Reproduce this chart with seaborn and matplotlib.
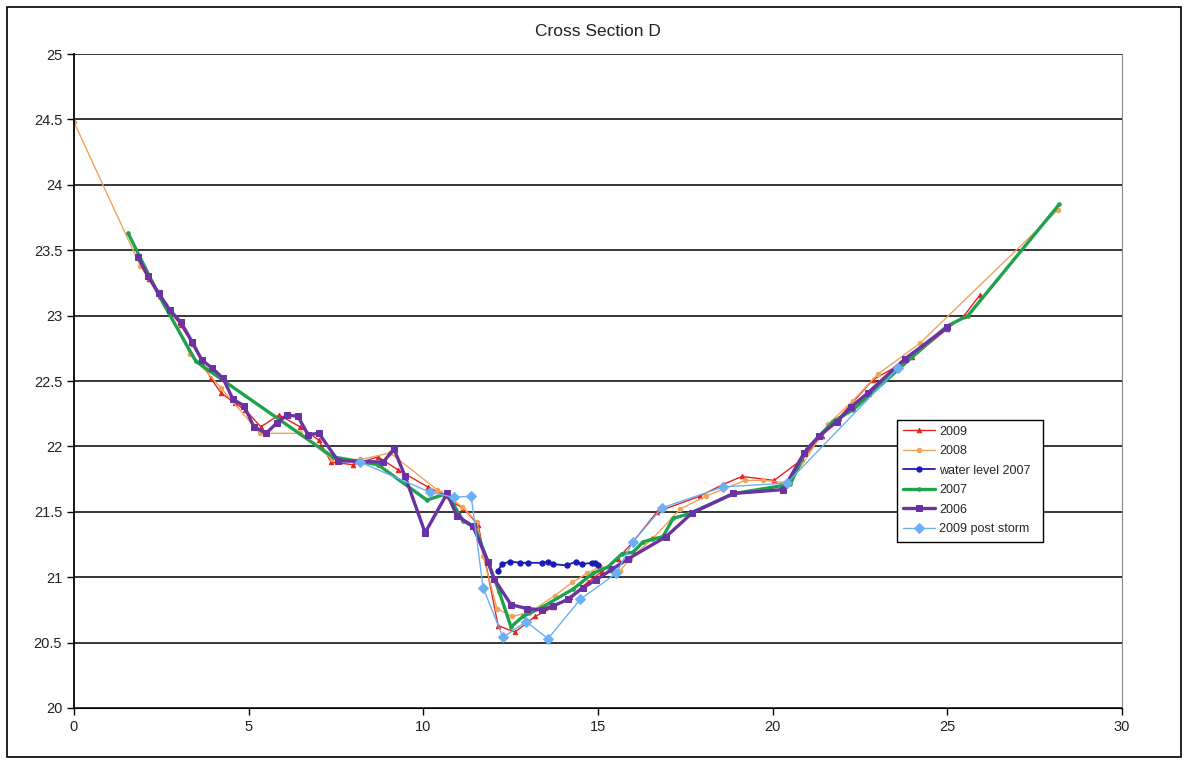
import numpy as np
import pandas as pd
import matplotlib
matplotlib.use('Agg')
import matplotlib.pyplot as plt
from matplotlib.ticker import FuncFormatter, MultipleLocator
from matplotlib.patches import Rectangle
import seaborn as sns

# chainage (m) and bed level readings per survey
x_2009 = [1.85, 2.15, 2.45, 2.75, 3.05, 3.4, 3.92, 4.21, 4.6, 4.9, 5.35, 5.87, 6.47, 7.0, 7.36, 7.99,
          8.70, 9.28, 10.13, 10.5, 10.85, 11.14, 11.57, 12.14, 12.62, 13.2, 13.71, 14.2, 14.7, 15.1,
          15.57, 16.0, 16.69, 17.92, 18.58, 19.12, 20.04, 20.84, 21.4, 21.9, 22.87, 24.0, 25.0, 25.48, 25.94]
y_2009 = [23.45, 23.28, 23.15, 23.03, 22.93, 22.78, 22.52, 22.41, 22.33, 22.28, 22.15, 22.24, 22.15, 22.05,
          21.88, 21.86, 21.92, 21.82, 21.69, 21.64, 21.57, 21.53, 21.40, 20.63, 20.58, 20.70, 20.77, 20.85,
          20.96, 21.04, 21.14, 21.27, 21.50, 21.62, 21.71, 21.77, 21.74, 21.90, 22.08, 22.22, 22.51, 22.68,
          22.90, 23.00, 23.16]

x_2008 = [0, 1.9, 2.6, 3.32, 4.2, 5.32, 6.47, 7.4, 8.2, 9.05, 10.39, 11.11, 11.54, 11.71, 12.11, 12.54,
          13.03, 13.77, 14.26, 14.69, 15.06, 15.63, 15.92, 16.58, 17.35, 18.09, 19.21, 19.73, 20.5, 21.59,
          22.3, 23.0, 24.22, 28.17]
y_2008 = [24.48, 23.38, 23.08, 22.71, 22.45, 22.10, 22.10, 21.90, 21.90, 21.95, 21.67, 21.54, 21.42, 21.16,
          20.76, 20.70, 20.73, 20.86, 20.96, 21.03, 21.08, 21.05, 21.14, 21.30, 21.52, 21.62, 21.74, 21.74,
          21.72, 22.17, 22.35, 22.55, 22.79, 23.81]

x_wl2007 = [12.14, 12.25, 12.48, 12.77, 13.0, 13.40, 13.57, 13.71, 14.11, 14.37, 14.54, 14.83, 14.92, 15.0]
y_wl2007 = [21.05, 21.10, 21.12, 21.11, 21.11, 21.11, 21.12, 21.10, 21.09, 21.12, 21.10, 21.11, 21.11, 21.09]

x_2007 = [1.55, 2.46, 3.49, 7.41, 8.70, 10.1, 10.68, 11.14, 11.48, 12.17, 12.51, 12.85, 13.40, 14.29, 14.86,
          15.29, 15.69, 16.0, 16.29, 16.55, 16.86, 17.15, 17.55, 18.9, 20.5, 20.98, 21.73, 22.30, 24.99,
          25.59, 28.2]
y_2007 = [23.63, 23.14, 22.65, 21.92, 21.86, 21.59, 21.64, 21.43, 21.38, 20.89, 20.62, 20.70, 20.77, 20.91,
          21.03, 21.08, 21.18, 21.19, 21.27, 21.29, 21.31, 21.45, 21.48, 21.64, 21.71, 21.98, 22.19, 22.28,
          22.92, 23.00, 23.85]

x_2006 = [1.83, 2.12, 2.43, 2.75, 3.06, 3.38, 3.66, 3.95, 4.27, 4.55, 4.87, 5.15, 5.50, 5.81, 6.10, 6.41,
          6.70, 7.01, 7.56, 8.85, 9.16, 9.48, 10.05, 10.68, 10.96, 11.42, 11.85, 12.02, 12.51, 12.97, 13.40,
          13.71, 14.14, 14.57, 14.94, 15.40, 15.86, 16.95, 17.69, 18.87, 20.30, 20.9, 21.33, 21.84, 22.24,
          22.73, 23.79, 24.99]
y_2006 = [23.45, 23.30, 23.17, 23.04, 22.95, 22.80, 22.66, 22.60, 22.52, 22.36, 22.31, 22.15, 22.10, 22.18,
          22.24, 22.23, 22.09, 22.10, 21.89, 21.88, 21.98, 21.77, 21.34, 21.64, 21.47, 21.39, 21.12, 20.99,
          20.79, 20.76, 20.75, 20.78, 20.83, 20.92, 20.98, 21.06, 21.14, 21.31, 21.49, 21.64, 21.67, 21.95,
          22.08, 22.19, 22.30, 22.41, 22.67, 22.91]

x_post = [8.19, 10.19, 10.88, 11.37, 11.71, 12.28, 12.94, 13.57, 14.49, 15.52, 16.0, 16.83, 18.58, 20.41, 23.59]
y_post = [21.88, 21.65, 21.61, 21.62, 20.92, 20.54, 20.66, 20.53, 20.83, 21.03, 21.27, 21.53, 21.69, 21.72, 22.60]

# label, x, y, colour, marker, marker size, line width
SERIES = [
    ('2009', x_2009, y_2009, '#E4231F', '^', 3.2, 1.0),
    ('2008', x_2008, y_2008, '#F0A35A', 'o', 3.2, 1.0),
    ('water level 2007', x_wl2007, y_wl2007, '#1A1AB4', 'o', 3.8, 1.3),
    ('2007', x_2007, y_2007, '#1EA24E', 'o', 2.5, 2.4),
    ('2006', x_2006, y_2006, '#6A32A2', 's', 4.5, 2.4),
    ('2009 post storm', x_post, y_post, '#6CB0F2', 'D', 5, 1.0),
]

sns.set_style('white')
plt.rcParams['font.family'] = ['Liberation Sans', 'DejaVu Sans']

fig = plt.figure(figsize=(11.89, 7.64), dpi=100)
ax = fig.add_axes([0.0622, 0.0733, 0.8815, 0.856])

for lab, xs, ys, col, mk, ms, lw in SERIES:
    sns.lineplot(x=xs, y=ys, ax=ax, sort=False, estimator=None, color=col, lw=lw,
                 marker=mk, markersize=ms, markeredgecolor=col, label=lab)

ax.set_xlim(0, 30)
ax.set_ylim(20, 25)
ax.xaxis.set_major_locator(MultipleLocator(5))
ax.yaxis.set_major_locator(MultipleLocator(0.5))
ax.yaxis.set_major_formatter(FuncFormatter(lambda v, p: f'{v:g}'))
ax.grid(axis='y', color='black', lw=1.1)
ax.grid(axis='x', visible=False)
ax.set_axisbelow(True)
ax.tick_params(axis='both', direction='out', length=5, width=1, colors='black',
               labelsize=10.5, labelcolor='#222222', bottom=True, left=True)
ax.spines['left'].set_color('black')
ax.spines['left'].set_linewidth(1.3)
ax.spines['bottom'].set_color('black')
ax.spines['right'].set_color('#888888')
ax.spines['top'].set_visible(False)
ax.set_title('Cross Section D', fontsize=12.5, pad=13, color='#222222')

leg = ax.legend(loc='lower left', bbox_to_anchor=(0.779, 0.245, 0.152, 0.188), mode='expand',
                fontsize=9, frameon=True, fancybox=False, edgecolor='black',
                framealpha=1, borderpad=0.5, labelspacing=0.6, handlelength=2.6, handletextpad=0.3)
leg.get_frame().set_linewidth(1.0)

fig.patches.append(Rectangle((0.006, 0.009), 0.987, 0.982, transform=fig.transFigure,
                             fill=False, edgecolor='black', lw=1.2))

fig.savefig('out.png', dpi=100)
